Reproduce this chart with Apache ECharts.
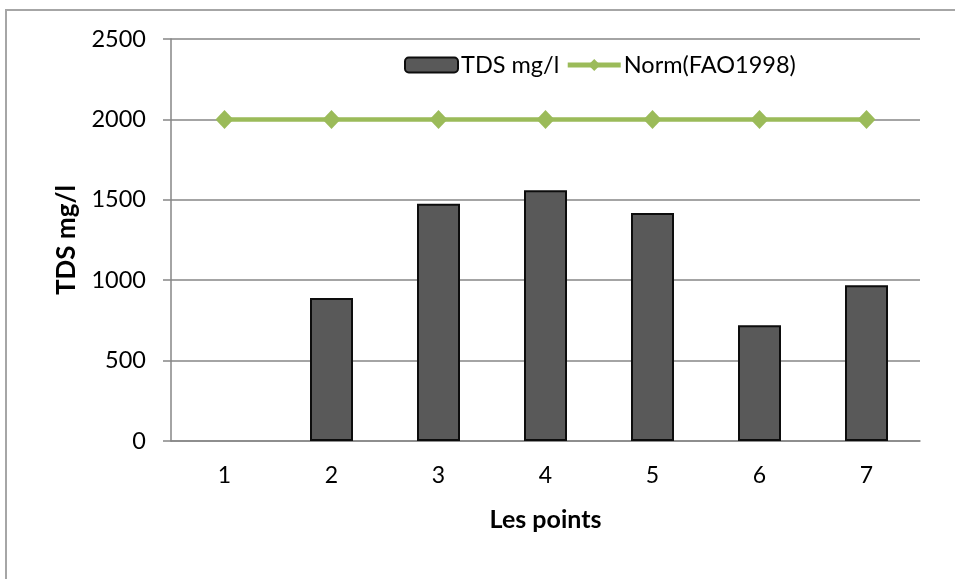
<!DOCTYPE html>
<html>
<head>
<meta charset="utf-8">
<script src="https://cdn.jsdelivr.net/npm/echarts@6/dist/echarts.min.js"></script>
<style>
html,body{margin:0;padding:0;background:#fff;}
#chart{width:955px;height:579px;}
</style>
</head>
<body>
<div id="chart"></div>
<script>
const categories = ['1','2','3','4','5','6','7'];
const tdsValues = [null, 890, 1475, 1560, 1418, 720, 968];
const normValues = [2000, 2000, 2000, 2000, 2000, 2000, 2000];
const seriesNames = ['TDS mg/l', 'Norm(FAO1998)'];
const yAxisTitle = 'TDS mg/l';
const xAxisTitle = 'Les points';

const FONT = 'Lato, Carlito, Calibri, sans-serif';
const chart = echarts.init(document.getElementById('chart'), null, {renderer:'canvas'});
chart.setOption({
  animation: false,
  backgroundColor: '#fff',
  graphic: [{
    type: 'rect', z: -1,
    shape: {x: 6, y: 10, width: 1200, height: 1200},
    style: {fill: 'none', stroke: '#a6a6a6', lineWidth: 2}
  }],
  grid: {left: 171, right: 35, top: 39, bottom: 138, containLabel: false},
  legend: {
    left: 399, top: 48,
    itemWidth: 53, itemHeight: 15, itemGap: 6,
    textStyle: {fontFamily: FONT, fontSize: 23.5, color: '#000', padding: [0,0,0,-2]},
    data: [
      {name: seriesNames[0], itemStyle: {color: '#595959', borderColor: '#0d0d0d', borderWidth: 2}},
      {name: seriesNames[1], lineStyle: {width: 5, color: '#9bbb59'}, itemStyle: {color: '#9bbb59'}}
    ]
  },
  xAxis: {
    type: 'category', data: categories,
    name: xAxisTitle, nameLocation: 'middle', nameGap: 66,
    nameTextStyle: {fontFamily: FONT, fontSize: 25, fontWeight: 'bold', color: '#000'},
    axisLine: {show: true, lineStyle: {color: '#868686', width: 1.5}},
    axisTick: {show: false},
    axisLabel: {fontFamily: FONT, fontSize: 23, color: '#000', margin: 23}
  },
  yAxis: {
    type: 'value', min: 0, max: 2500, interval: 500,
    name: yAxisTitle, nameLocation: 'middle', nameGap: 91, nameRotate: 90,
    nameTextStyle: {fontFamily: FONT, fontSize: 26, fontWeight: 'bold', color: '#000'},
    axisLine: {show: true, lineStyle: {color: '#868686', width: 1.5}},
    axisTick: {show: true, inside: false, length: 8, lineStyle: {color: '#868686', width: 1.5}},
    splitLine: {show: true, lineStyle: {color: '#868686', width: 1.5}},
    axisLabel: {fontFamily: FONT, fontSize: 23.5, color: '#000', margin: 25, formatter: v => String(v)}
  },
  series: [
    {
      name: seriesNames[0], type: 'bar', data: tdsValues,
      barWidth: 43,
      itemStyle: {color: '#595959', borderColor: '#0d0d0d', borderWidth: 2}
    },
    {
      name: seriesNames[1], type: 'line', data: normValues,
      symbol: 'diamond', symbolSize: [18, 19],
      lineStyle: {color: '#9bbb59', width: 4.5},
      itemStyle: {color: '#9bbb59'}
    }
  ]
});
</script>
</body>
</html>
